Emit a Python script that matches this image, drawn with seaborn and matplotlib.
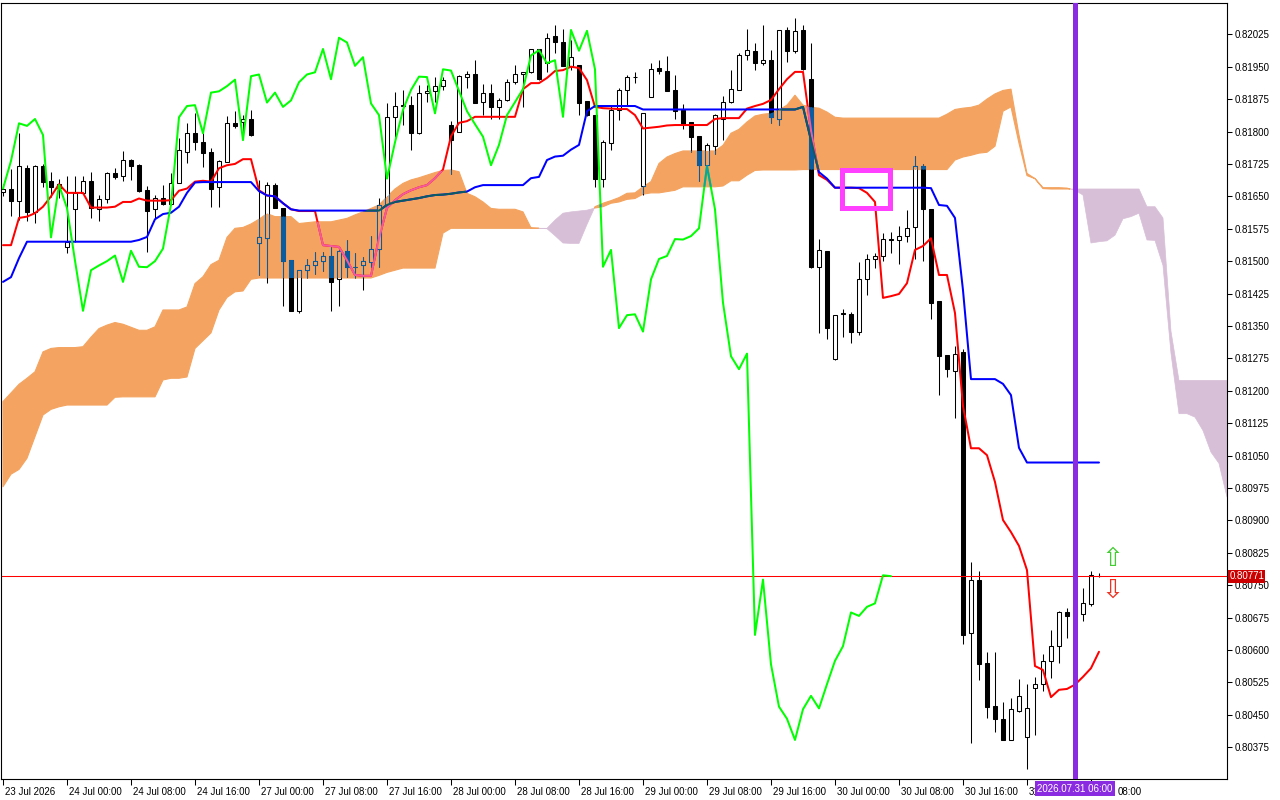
import numpy as np
import matplotlib
matplotlib.use("Agg")
import matplotlib.pyplot as plt
import matplotlib.transforms as mtransforms
from matplotlib.patches import Rectangle
from matplotlib.path import Path
import seaborn as sns

# prices below are in points (1 point = 0.00001)
PT = 1e-5

# H1 bars from 23 Jul 16:00 to 31 Jul 09:00
opens = [81659, 81667, 81640, 81715, 81614, 81720, 81685, 81678, 81533, 81620,
         81658, 81685, 81620, 81643, 81703, 81697, 81734, 81722, 81664, 81620,
         81647, 81632, 81681, 81753, 81797, 81776, 81753, 81671, 81730, 81819,
         81822, 81829, 81543, 81553, 81676, 81623, 81502, 81384, 81479, 81490,
         81500, 81513, 81458, 81524, 81487, 81490, 81497, 81529, 81631, 81833,
         81859, 81861, 81796, 81890, 81893, 81905, 81815, 81799, 81927, 81932,
         81869, 81890, 81857, 81872, 81914, 81932, 81937, 81990, 81958, 82021,
         82006, 81952, 81954, 81871, 81838, 81691, 81773, 81850, 81896, 81927,
         81674, 81880, 81946, 81940, 81897, 81850, 81821, 81789, 81722, 81766,
         81829, 81869, 81896, 81976, 81987, 81958, 81965, 81830, 82035, 81987,
         82035, 81921, 81487, 81523, 81273, 81379, 81377, 81337, 81458, 81504,
         81512, 81551, 81549, 81559, 81578, 81720, 81620, 81408, 81283, 81246,
         81289, 80640, 80763, 80569, 80470, 80440, 80393, 80460, 80398, 80513,
         80521, 80575, 80609, 80687, 80679, 80683, 80707, 80772]
highs = [81678, 81713, 81796, 81722, 81722, 81725, 81707, 81690, 81697, 81697,
         81697, 81707, 81654, 81706, 81715, 81755, 81736, 81725, 81674, 81653,
         81676, 81703, 81784, 81819, 81842, 81796, 81761, 81734, 81836, 81847,
         81838, 81850, 81688, 81684, 81680, 81624, 81503, 81480, 81506, 81522,
         81522, 81533, 81525, 81549, 81518, 81510, 81558, 81645, 81865, 81892,
         81896, 81882, 81907, 81907, 81927, 81927, 81824, 81931, 81940, 81965,
         81909, 81909, 81877, 81921, 81954, 81938, 81992, 81991, 82027, 82046,
         82037, 82011, 81955, 81871, 81838, 81780, 81858, 81900, 81931, 81938,
         81843, 81958, 81965, 81975, 81931, 81864, 81822, 81790, 81773, 81840,
         81882, 81942, 81981, 82037, 82004, 82046, 81988, 82035, 82041, 82062,
         82046, 82004, 81551, 81523, 81375, 81389, 81383, 81499, 81517, 81518,
         81566, 81568, 81581, 81618, 81743, 81725, 81621, 81408, 81283, 81303,
         81297, 80803, 80783, 80596, 80596, 80479, 80488, 80534, 80521, 80538,
         80592, 80646, 80691, 80698, 80712, 80743, 80783, 80779]
lows = [81650, 81604, 81595, 81593, 81588, 81671, 81648, 81646, 81518, 81545,
        81657, 81599, 81593, 81634, 81690, 81686, 81688, 81660, 81522, 81597,
        81630, 81630, 81680, 81726, 81757, 81718, 81626, 81626, 81729, 81809,
        81799, 81790, 81468, 81450, 81622, 81396, 81384, 81380, 81462, 81470,
        81478, 81385, 81396, 81464, 81462, 81434, 81487, 81487, 81625, 81787,
        81815, 81757, 81794, 81869, 81869, 81896, 81701, 81798, 81901, 81867,
        81838, 81830, 81830, 81871, 81910, 81857, 81935, 81919, 81938, 81981,
        81951, 81942, 81838, 81837, 81672, 81671, 81757, 81826, 81861, 81912,
        81653, 81880, 81933, 81894, 81828, 81806, 81753, 81686, 81721, 81748,
        81780, 81865, 81895, 81965, 81942, 81954, 81819, 81815, 81961, 81981,
        81942, 81483, 81333, 81319, 81272, 81325, 81311, 81329, 81422, 81483,
        81501, 81519, 81493, 81545, 81506, 81501, 81365, 81190, 81233, 81138,
        80614, 80385, 80531, 80443, 80411, 80391, 80392, 80457, 80324, 80403,
        80506, 80535, 80569, 80628, 80665, 80668, 80701, 80768]
closes = [81668, 81640, 81720, 81614, 81720, 81684, 81672, 81669, 81545, 81658,
          81685, 81624, 81643, 81703, 81695, 81734, 81721, 81663, 81617, 81645,
          81632, 81680, 81757, 81796, 81776, 81751, 81668, 81732, 81819, 81813,
          81829, 81792, 81555, 81676, 81623, 81501, 81385, 81479, 81490, 81500,
          81513, 81452, 81524, 81487, 81486, 81500, 81529, 81631, 81833, 81859,
          81861, 81796, 81890, 81893, 81905, 81920, 81780, 81928, 81932, 81867,
          81890, 81857, 81872, 81914, 81932, 81937, 81991, 81921, 82017, 82006,
          81952, 81972, 81865, 81838, 81691, 81775, 81850, 81896, 81927, 81926,
          81842, 81944, 81941, 81894, 81847, 81817, 81788, 81722, 81769, 81838,
          81868, 81898, 81976, 81988, 81958, 81965, 81834, 82035, 81987, 82033,
          81944, 81487, 81526, 81345, 81375, 81377, 81337, 81458, 81505, 81512,
          81551, 81550, 81558, 81576, 81720, 81620, 81404, 81280, 81250, 81286,
          80635, 80763, 80567, 80469, 80441, 80392, 80463, 80494, 80465, 80521,
          80575, 80609, 80687, 80679, 80700, 80708, 80773, 80771]

tenkan = [81537, 81537, 81600, 81603, 81611, 81626, 81650, 81678, 81658, 81658,
          81658, 81624, 81624, 81624, 81626, 81637, 81637, 81645, 81640, 81640,
          81640, 81641, 81663, 81668, 81684, 81686, 81684, 81715, 81722, 81725,
          81736, 81736, 81664, 81652, 81650, 81634, 81620, 81616, 81616, 81616,
          81537, 81535, 81533, 81502, 81468, 81466, 81466, 81553, 81623, 81641,
          81655, 81664, 81671, 81676, 81692, 81712, 81789, 81820, 81824, 81834,
          81834, 81834, 81834, 81834, 81834, 81898, 81912, 81912, 81924, 81940,
          81942, 81950, 81947, 81919, 81857, 81854, 81853, 81852, 81852, 81838,
          81807, 81809, 81811, 81814, 81815, 81815, 81815, 81815, 81815, 81829,
          81831, 81831, 81831, 81853, 81859, 81864, 81873, 81898, 81921, 81938,
          81938, 81803, 81699, 81688, 81670, 81670, 81670, 81669, 81658, 81637,
          81415, 81419, 81424, 81449, 81526, 81535, 81553, 81468, 81468, 81380,
          81165, 81067, 81067, 81051, 80989, 80901, 80873, 80841, 80785, 80563,
          80554, 80491, 80508, 80510, 80520, 80538, 80558, 80596]
kijun = [81452, 81463, 81507, 81545, 81545, 81545, 81545, 81545, 81545, 81545,
         81545, 81545, 81545, 81545, 81545, 81545, 81545, 81549, 81556, 81597,
         81609, 81612, 81626, 81658, 81682, 81683, 81683, 81683, 81683, 81683,
         81683, 81683, 81662, 81652, 81650, 81634, 81620, 81617, 81617, 81617,
         81617, 81617, 81617, 81617, 81617, 81617, 81617, 81617, 81630, 81637,
         81640, 81643, 81646, 81650, 81653, 81654, 81656, 81659, 81661, 81671,
         81676, 81676, 81676, 81676, 81676, 81676, 81692, 81695, 81734, 81742,
         81744, 81758, 81769, 81847, 81859, 81859, 81859, 81859, 81859, 81859,
         81851, 81851, 81851, 81851, 81851, 81851, 81851, 81851, 81851, 81851,
         81851, 81851, 81851, 81851, 81851, 81851, 81851, 81851, 81851, 81851,
         81857, 81780, 81706, 81691, 81670, 81670, 81670, 81670, 81670, 81670,
         81670, 81670, 81670, 81670, 81670, 81670, 81669, 81630, 81628, 81600,
         81433, 81227, 81227, 81227, 81227, 81216, 81190, 81068, 81034, 81034,
         81034, 81034, 81034, 81034, 81034, 81034, 81034, 81034]

# senkou spans as plotted (already shifted 26 bars ahead)
span_a = [81175, 81195, 81215, 81229, 81244, 81290, 81298, 81300, 81300, 81300,
          81302, 81324, 81344, 81352, 81358, 81354, 81347, 81340, 81340, 81348,
          81387, 81387, 81387, 81394, 81448, 81464, 81492, 81502, 81555, 81576,
          81578, 81586, 81597, 81610, 81603, 81603, 81603, 81587, 81589, 81591,
          81591, 81591, 81595, 81599, 81607, 81614, 81622, 81630, 81649, 81667,
          81680, 81688, 81693, 81699, 81705, 81710, 81711, 81707, 81657, 81649,
          81637, 81622, 81620, 81620, 81620, 81614, 81577, 81576, 81575, 81559,
          81542, 81541, 81541, 81585, 81626, 81634, 81640, 81647, 81657, 81658,
          81672, 81684, 81726, 81741, 81749, 81755, 81755, 81755, 81755, 81755,
          81768, 81796, 81805, 81822, 81836, 81840, 81842, 81850, 81861, 81884,
          81861, 81856, 81854, 81845, 81833, 81831, 81831, 81831, 81831, 81831,
          81831, 81831, 81831, 81831, 81831, 81831, 81831, 81831, 81840, 81851,
          81854, 81856, 81861, 81875, 81887, 81895, 81898, 81792, 81703, 81691,
          81670, 81670, 81670, 81669, 81664, 81653, 81542, 81545, 81547, 81560,
          81598, 81603, 81611, 81549, 81548, 81490, 81287, 81147, 81147, 81139,
          81108, 81058, 81032, 80954]
span_b = [80978, 81007, 81018, 81044, 81094, 81144, 81157, 81163, 81167, 81167,
          81167, 81167, 81167, 81167, 81185, 81186, 81186, 81186, 81186, 81186,
          81225, 81229, 81229, 81232, 81298, 81316, 81334, 81387, 81416, 81429,
          81431, 81458, 81461, 81461, 81461, 81461, 81461, 81461, 81461, 81461,
          81461, 81461, 81461, 81461, 81461, 81461, 81461, 81467, 81474, 81479,
          81484, 81484, 81484, 81484, 81484, 81565, 81576, 81576, 81576, 81576,
          81576, 81576, 81576, 81576, 81576, 81576, 81576, 81576, 81576, 81595,
          81611, 81614, 81616, 81618, 81623, 81626, 81634, 81637, 81643, 81645,
          81655, 81658, 81658, 81661, 81664, 81672, 81672, 81672, 81672, 81672,
          81674, 81686, 81686, 81699, 81710, 81711, 81711, 81711, 81711, 81711,
          81712, 81712, 81712, 81712, 81712, 81712, 81712, 81712, 81712, 81712,
          81712, 81712, 81712, 81712, 81712, 81712, 81712, 81712, 81712, 81734,
          81741, 81745, 81750, 81752, 81766, 81847, 81857, 81773, 81698, 81691,
          81668, 81667, 81667, 81667, 81667, 81667, 81667, 81667, 81667, 81667,
          81667, 81667, 81667, 81626, 81626, 81600, 81338, 81224, 81224, 81224,
          81224, 81224, 81224, 81224]

# time axis labels every 8 bars; the last two are partly hidden by the
# time tag of the vertical line, so only their visible part is written
x_labels = ["23 Jul 2026", "24 Jul 00:00", "24 Jul 08:00", "24 Jul 16:00",
            "27 Jul 00:00", "27 Jul 08:00", "27 Jul 16:00", "28 Jul 00:00",
            "28 Jul 08:00", "28 Jul 16:00", "29 Jul 00:00", "29 Jul 08:00",
            "29 Jul 16:00", "30 Jul 00:00", "30 Jul 08:00", "30 Jul 16:00",
            "31", "08:00"]
bid = 80771
marker_bar = 134
marker_text = "2026.07.31 06:00"

# magenta box and signal arrows (bar index, price in points)
box_bars = (104.9, 110.9)
box_prices = (81624, 81711)
arrow_bar = 138.75
arrow_up_price = 80810
arrow_dn_price = 80737

SANDY = "#f4a460"
THISTLE = "#d8bfd8"
# colours that MT5 produces where objects sit inside the xor-drawn cloud
XOR_BLACK = "#0b5b9f"
XOR_RED = "#f45b9f"
XOR_BLUE = "#0b5b60"
XOR_GREEN = "#0ba49f"

o = np.array(opens) * PT
h = np.array(highs) * PT
l = np.array(lows) * PT
c = np.array(closes) * PT
tk = np.array(tenkan) * PT
kj = np.array(kijun) * PT
sa = np.array(span_a) * PT
sb = np.array(span_b) * PT
idx = np.arange(len(c))
cidx = np.arange(len(sa))
chikou = c[26:]
chidx = np.arange(len(chikou))

sns.set_style("white")
plt.rcParams['font.family'] = ['Liberation Sans', 'DejaVu Sans']
plt.rcParams['text.color'] = 'black'
FS = 7

fig = plt.figure(figsize=(12.8, 8), dpi=100)
ax = fig.add_axes([1 / 1280, 21 / 800, 1226.3 / 1280, 776.3 / 800])

# cloud
orange = ax.fill_between(cidx, sa, sb, where=sa >= sb, interpolate=True,
                         facecolor=SANDY, edgecolor=SANDY, lw=0.8, zorder=1)
ax.fill_between(cidx, sa, sb, where=sb > sa, interpolate=True,
                facecolor=THISTLE, edgecolor=THISTLE, lw=0.5, zorder=1)
clip = Path.make_compound_path(*orange.get_paths())

# candles
up = c >= o
body_lo = np.minimum(o, c)
body_h = np.abs(c - o)
ax.vlines(idx, l, h, color='black', lw=0.75, zorder=2)
ax.bar(idx, body_h, bottom=body_lo, width=0.55,
       color=np.where(up, 'white', 'black'), edgecolor='black',
       linewidth=0.75, zorder=2.1)

ax.axhline(bid * PT, color='#ff0000', lw=0.75, zorder=2.5)

# ichimoku lines
sns.lineplot(x=idx, y=tk, color='#ff0000', linewidth=1.45, ax=ax, zorder=3)
sns.lineplot(x=idx, y=kj, color='#0000ff', linewidth=1.45, ax=ax, zorder=3.1)
sns.lineplot(x=chidx, y=chikou, color='#00ff00', linewidth=1.45, ax=ax, zorder=3.2)

# same objects again in xor colours, visible only inside the orange cloud
wk = ax.vlines(idx, l, h, color=XOR_BLACK, lw=0.75, zorder=3.3)
wk.set_clip_path(clip, ax.transData)
bars = ax.bar(idx, body_h, bottom=body_lo, width=0.55,
              color=np.where(up, SANDY, XOR_BLACK), edgecolor=XOR_BLACK,
              linewidth=0.75, zorder=3.4)
for p in bars.patches:
    p.set_clip_path(clip, ax.transData)
for xs, ys, col, z in [(idx, tk, XOR_RED, 3.5), (idx, kj, XOR_BLUE, 3.6),
                       (chidx, chikou, XOR_GREEN, 3.7)]:
    ln, = ax.plot(xs, ys, color=col, lw=1.45, zorder=z)
    ln.set_clip_path(clip, ax.transData)

# current bar marker
ax.axvline(marker_bar, color='#8a2be2', lw=3.6, zorder=6)

ax.add_patch(Rectangle((box_bars[0], box_prices[0] * PT),
                       box_bars[1] - box_bars[0],
                       (box_prices[1] - box_prices[0]) * PT,
                       fill=False, ec='#ff40ff', lw=3.6, zorder=7))

ax.text(arrow_bar, arrow_up_price * PT, "\u21e7", color='#44cc33',
        fontsize=19, ha='center', va='center', zorder=7,
        family=['DejaVu Sans'])
ax.text(arrow_bar, arrow_dn_price * PT, "\u21e9", color='#ee3322',
        fontsize=19, ha='center', va='center', zorder=7,
        family=['DejaVu Sans'])

# axes and labels
ax.set_xlim(-0.25, 153.04)
ax.set_ylim(0.803016, 0.820981)
ax.set_xlabel('')
ax.set_ylabel('')
for sp in ax.spines.values():
    sp.set_visible(True)
    sp.set_color('black')
    sp.set_linewidth(0.8)

yt = np.round(np.arange(0.80375, 0.82026, 0.00075), 5)
ax.set_yticks(yt)
ax.set_yticklabels([f"{v:.5f}" for v in yt])
ax.set_xticks(np.arange(0, 8 * len(x_labels), 8))
ax.set_xticklabels(x_labels)
ax.tick_params(axis='y', left=False, right=True, labelleft=False,
               labelright=True, direction='out', length=3.5, width=0.75,
               pad=1.5, labelsize=FS, colors='black')
ax.tick_params(axis='x', bottom=True, direction='out', length=4, width=0.75,
               pad=1.5, labelsize=FS, colors='black')
shift = mtransforms.ScaledTranslation(1.5 / 72, 0, fig.dpi_scale_trans)
far_shift = mtransforms.ScaledTranslation(19 / 72, 0, fig.dpi_scale_trans)
for i, lbl in enumerate(ax.get_xticklabels()):
    lbl.set_horizontalalignment('left')
    extra = far_shift if i == len(x_labels) - 1 else shift
    lbl.set_transform(lbl.get_transform() + extra)

# bid price tag and marker time tag
tag = mtransforms.blended_transform_factory(ax.transAxes, ax.transData)
ax.text(1.0015, bid * PT, f"{bid * PT:.5f}", transform=tag, ha='left',
        va='center', color='white', fontsize=FS, zorder=10, clip_on=False,
        bbox=dict(boxstyle='square,pad=0.15', fc='#cc0000', ec='none'))
tag2 = mtransforms.blended_transform_factory(ax.transData, ax.transAxes)
ax.text(marker_bar, -0.0125, marker_text, transform=tag2, ha='center',
        va='center', color='white', fontsize=FS, zorder=10, clip_on=False,
        bbox=dict(boxstyle='square,pad=0.25', fc='#8a2be2', ec='none'))

fig.savefig("out.png", dpi=100)
